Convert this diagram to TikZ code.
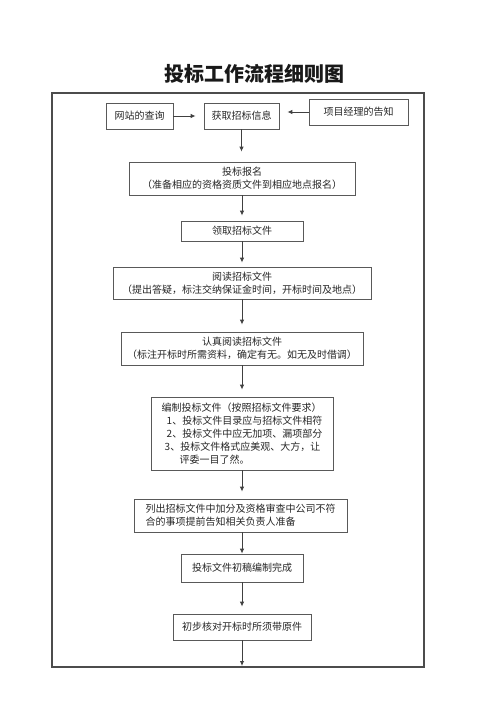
\documentclass[tikz,border=0pt]{standalone}
\usepackage{fontspec}
\setmainfont{Noto Sans CJK SC}
\usetikzlibrary{arrows.meta}
\begin{document}
\begin{tikzpicture}[x=1pt,y=-1pt,
  box/.style={draw=black!65, line width=0.8pt, inner sep=0pt, align=center,
    font=\fontsize{10pt}{13pt}\selectfont, text=black!85},
  conn/.style={draw=black!75, line width=0.9pt, -{Latex[length=5pt,width=4.5pt]}},
  frame/.style={draw=black!70, line width=1.4pt}]
\useasboundingbox (0,0) rectangle (500,707);
\node[font=\fontsize{20pt}{24pt}\selectfont\bfseries, text=black!90] (title) at (254,74) {投标工作流程细则图};
\node[frame, minimum width=372pt, minimum height=574pt, inner sep=0pt] (fr) at (238,380) {};
\coordinate (endpt) at (242,666);

\node[box, minimum width=67pt, minimum height=26pt] (web) at (139.5,116) {网站的查询};
\node[box, minimum width=75pt, minimum height=26pt] (hq) at (241.5,116) {获取招标信息};
\node[box, minimum width=99pt, minimum height=26pt] (xm) at (358.5,112) {项目经理的告知};
\node[box, minimum width=226pt, minimum height=33pt] (bm) at (242,178.5) {投标报名\\（准备相应的资格资质文件到相应地点报名）};
\node[box, minimum width=122pt, minimum height=20pt] (lq) at (242,231) {领取招标文件};
\node[box, minimum width=258pt, minimum height=32pt] (yd) at (242,283) {阅读招标文件\\（提出答疑，标注交纳保证金时间，开标时间及地点）};
\node[box, minimum width=242pt, minimum height=33pt] (rz) at (242,348.5) {认真阅读招标文件\\（标注开标时所需资料，确定有无。如无及时借调）};
\node[box, minimum width=182pt, minimum height=73pt, align=left] (bz) at (242,433.5) {编制投标文件（按照招标文件要求）\\\hspace{5pt}1、投标文件目录应与招标文件相符\\\hspace{5pt}2、投标文件中应无加项、漏项部分\\\hspace{3pt}3、投标文件格式应美观、大方，让\\\hspace{18pt}评委一目了然。};
\node[box, minimum width=213pt, minimum height=33pt, align=left] (lc) at (240.5,515.5) {列出招标文件中加分及资格审查中公司不符\\合的事项提前告知相关负责人准备};
\node[box, minimum width=122pt, minimum height=28pt] (cg) at (242,568) {投标文件初稿编制完成};
\node[box, minimum width=138pt, minimum height=26pt] (cb) at (242,627) {初步核对开标时所须带原件};

\draw[conn, shorten >=8pt] (web.east) -- (hq.west |- web.east);
\draw[conn, shorten >=8pt] (xm.west) -- (hq.east |- xm.west);
\draw[conn, shorten >=10pt] (hq.south) -- (hq.south |- bm.north);
\draw[conn, shorten >=5pt] (bm.south) -- (lq.north);
\draw[conn, shorten >=4pt] (lq.south) -- (yd.north);
\draw[conn, shorten >=7pt] (yd.south) -- (rz.north);
\draw[conn, shorten >=7pt] (rz.south) -- (bz.north);
\draw[conn, shorten >=7pt] (bz.south) -- (bz.south |- lc.north);
\draw[conn] (bz.south |- lc.south) -- (cg.north);
\draw[conn, shorten >=7pt] (cg.south) -- (cb.north);
\draw[conn] (cb.south) -- (endpt);
\end{tikzpicture}
\end{document}
